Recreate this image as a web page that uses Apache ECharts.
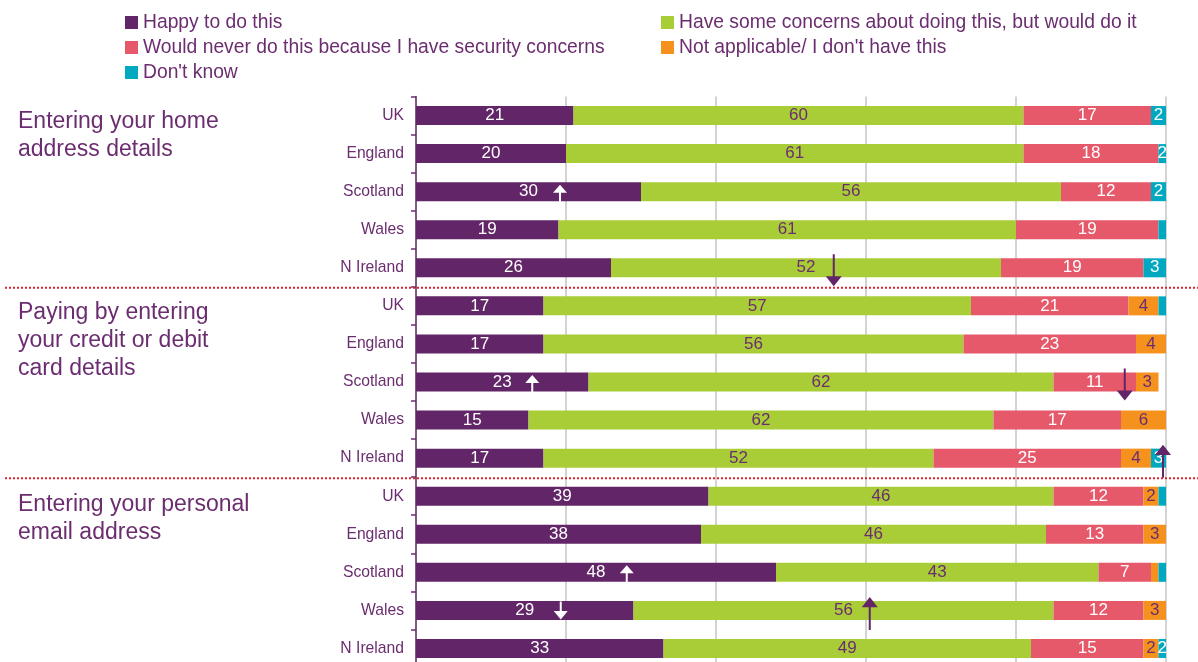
<!DOCTYPE html>
<html>
<head>
<meta charset="utf-8">
<script src="https://cdn.jsdelivr.net/npm/echarts@6/dist/echarts.min.js"></script>
<style>
  html, body { margin: 0; padding: 0; background: #fff; }
  #chart { width: 1198px; height: 662px; }
</style>
</head>
<body>
<div id="chart"></div>
<script>
// Nations shown for each activity block (rows read top to bottom)
const nations = ['UK', 'England', 'Scotland', 'Wales', 'N Ireland'];
const activities = [
  'Entering your home\naddress details',
  'Paying by entering\nyour credit or debit\ncard details',
  'Entering your personal\nemail address'
];

// Percentages per row: home address (5), card details (5), email address (5)
const happy         = [21, 20, 30, 19, 26,   17, 17, 23, 15, 17,   39, 38, 48, 29, 33];
const someConcerns  = [60, 61, 56, 61, 52,   57, 56, 62, 62, 52,   46, 46, 43, 56, 49];
const neverDo       = [17, 18, 12, 19, 19,   21, 23, 11, 17, 25,   12, 13,  7, 12, 15];
const notApplicable = [ 0,  0,  0,  0,  0,    4,  4,  3,  6,  4,    2,  3,  1,  3,  2];
const dontKnow      = [ 2,  2,  2,  1,  3,    1,  1,  0,  1,  3,    1,  1,  1,  0,  2];

// Significant-change markers: [percent position, row index]
const upMarkersLight   = [[19.2, 2], [15.5, 7], [28.1, 12]];
const downMarkersLight = [[19.3, 13]];
const upMarkersDark    = [[99.6, 9], [60.5, 13]];
const downMarkersDark  = [[55.7, 4], [94.5, 7]];

const seriesNames = [
  'Happy to do this',
  'Have some concerns about doing this, but would do it',
  'Would never do this because I have security concerns',
  'Not applicable/ I don\'t have this',
  'Don\'t know'
];

const PURPLE = '#622567';
const TEXT = '#6b2d6f';
const FONT = '"Liberation Sans", Arial, sans-serif';
const colors = [PURPLE, '#a8cd37', '#e6596b', '#f5921e', '#00a9bf'];
const labelColors = ['#ffffff', TEXT, '#ffffff', TEXT, '#ffffff'];
const values = [happy, someConcerns, neverDo, notApplicable, dontKnow];

// Unique row keys; the axis shows only the nation part
const rowKeys = [];
activities.forEach((a, i) => nations.forEach(n => rowKeys.push(i + '|' + n)));

const chart = echarts.init(document.getElementById('chart'), null, { renderer: 'canvas' });

const barSeries = values.map((vals, i) => ({
  name: seriesNames[i],
  type: 'bar',
  stack: 'total',
  barWidth: 19,
  data: vals,
  itemStyle: { color: colors[i] },
  label: {
    show: true,
    position: 'inside',
    color: labelColors[i],
    fontFamily: FONT,
    fontSize: 17,
    formatter: p => (p.value >= 2 ? String(p.value) : '')
  },
  emphasis: { disabled: true },
  z: 2
}));

const ARROW_UP_DARK = 'path://M8,0 L16,10 L9,10 L9,32 L7,32 L7,10 L0,10 Z';
const ARROW_DOWN_DARK = 'path://M7,0 L9,0 L9,22 L16,22 L8,32 L0,22 L7,22 Z';
const ARROW_UP_LIGHT = 'path://M7,0 L14,8 L8,8 L8,17 L6,17 L6,8 L0,8 Z';
const ARROW_DOWN_LIGHT = 'path://M6,0 L8,0 L8,9 L14,9 L7,17 L0,9 L6,9 Z';

function markerSeries(data, symbol, size, color, offsetY) {
  return {
    type: 'scatter',
    data: data,
    symbol: symbol,
    symbolSize: size,
    symbolOffset: [0, offsetY],
    itemStyle: { color: color, opacity: 1 },
    silent: true,
    clip: false,
    z: 10,
    emphasis: { disabled: true }
  };
}

const legendText = { color: TEXT, fontSize: 19.3, fontFamily: FONT, lineHeight: 19 };

chart.setOption({
  animation: false,
  backgroundColor: '#ffffff',
  textStyle: { fontFamily: FONT },
  legend: [
    {
      data: [seriesNames[0], seriesNames[2], seriesNames[4]],
      orient: 'vertical',
      left: 125,
      top: 13,
      padding: 0,
      itemWidth: 13,
      itemHeight: 13,
      itemGap: 6,
      icon: 'rect',
      selectedMode: false,
      textStyle: legendText
    },
    {
      data: [seriesNames[1], seriesNames[3]],
      orient: 'vertical',
      left: 661,
      top: 13,
      padding: 0,
      itemWidth: 13,
      itemHeight: 13,
      itemGap: 6,
      icon: 'rect',
      selectedMode: false,
      textStyle: legendText
    }
  ],
  grid: { left: 416, right: 32, top: 96.5, height: 571, containLabel: false, outerBoundsMode: 'none' },
  xAxis: {
    type: 'value',
    min: 0,
    max: 100,
    interval: 20,
    axisLine: { show: false },
    axisTick: { show: false },
    axisLabel: { show: false },
    splitLine: { show: true, lineStyle: { color: '#d3d3d3', width: 2 } }
  },
  yAxis: {
    type: 'category',
    inverse: true,
    data: rowKeys,
    axisLine: { show: true, lineStyle: { color: TEXT, width: 1.5 } },
    axisTick: { show: true, length: 5, lineStyle: { color: TEXT, width: 1.5 } },
    axisLabel: {
      color: TEXT,
      fontSize: 15.7,
      fontFamily: FONT,
      margin: 12,
      formatter: v => v.split('|')[1]
    },
    splitLine: { show: false }
  },
  series: barSeries.concat([
    markerSeries(upMarkersLight, ARROW_UP_LIGHT, [14, 17], '#ffffff', 1.5),
    markerSeries(downMarkersLight, ARROW_DOWN_LIGHT, [14, 18], '#ffffff', 0),
    markerSeries(upMarkersDark, ARROW_UP_DARK, [16, 33], PURPLE, 3),
    markerSeries(downMarkersDark, ARROW_DOWN_DARK, [16, 32], PURPLE, 2.5)
  ])
});

// Section titles and dotted separators, placed from the category scale
const rowY = i => chart.convertToPixel({ yAxisIndex: 0 }, i);
const graphics = [];
activities.forEach((text, i) => {
  const first = i * nations.length;
  graphics.push({
    type: 'text',
    x: 18,
    y: rowY(first) - 8 + i,
    silent: true,
    style: {
      text: text,
      fill: TEXT,
      font: '23px ' + FONT,
      lineHeight: 28,
      textVerticalAlign: 'top',
      verticalAlign: 'top'
    }
  });
  if (i > 0) {
    const y = (rowY(first - 1) + rowY(first)) / 2 + 1;
    graphics.push({
      type: 'line',
      silent: true,
      shape: { x1: 5, y1: y, x2: 1198, y2: y },
      style: { stroke: '#dd2530', lineWidth: 2, lineDash: [2, 2] },
      z: 20
    });
  }
});
chart.setOption({ graphic: graphics });
</script>
</body>
</html>
